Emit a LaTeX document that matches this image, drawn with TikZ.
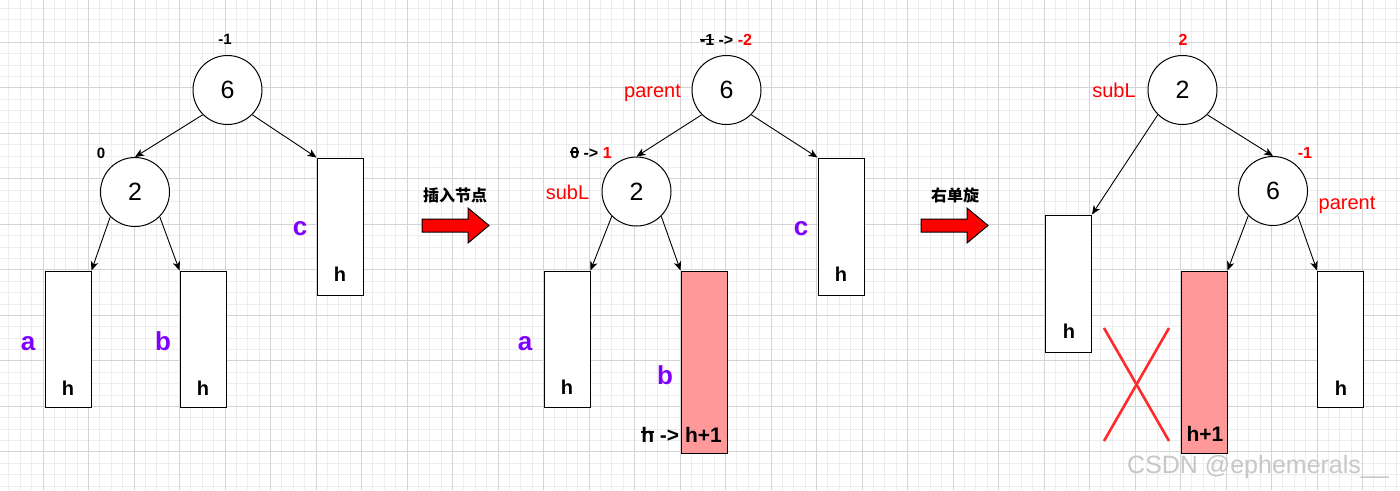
\documentclass[tikz,border=0pt]{standalone}
\usepackage{fontspec}
\setmainfont{Liberation Sans}
\newfontfamily\cjk{Noto Sans CJK SC}
\usetikzlibrary{arrows.meta}
\definecolor{purp}{HTML}{7F00FF}
\definecolor{rtxt}{HTML}{FF0000}
\definecolor{pinkf}{HTML}{FF9999}
\definecolor{gmaj}{HTML}{D4D4D4}
\definecolor{gmin}{HTML}{EDEDED}
\definecolor{xred}{HTML}{FF2A2A}
\newcommand\fsz[1]{\fontsize{#1}{#1}\selectfont}
\newcommand\strk[2]{\setbox0=\hbox{#2}\rlap{\rule[#1]{\wd0}{0.09em}}\box0\relax}
\begin{document}
\begin{tikzpicture}[x=1pt,y=-1pt,
  bnode/.style={circle,draw,line width=1pt,fill=white,minimum size=69pt,inner sep=0pt,font=\fsz{25}},
  tbox/.style={draw,line width=1pt,fill=white,minimum width=46pt,inner sep=0pt},
  pbox/.style={tbox,fill=pinkf},
  edge/.style={line width=0.9pt,-{Stealth[length=9pt,width=7.5pt,inset=2.5pt]}},
  hlab/.style={anchor=base,font=\fsz{20}\bfseries,inner sep=0pt},
  sublab/.style={anchor=base,font=\fsz{26}\bfseries,text=purp,inner sep=0pt},
  bal/.style={anchor=base,font=\fsz{15}\bfseries,inner sep=0pt},
  balb/.style={anchor=base,font=\fsz{16}\bfseries,inner sep=0pt},
  redlab/.style={anchor=base,font=\fsz{20},text=rtxt,inner sep=0pt},
  blockarrow/.style={fill=red,draw=black,line width=1pt},
  oplab/.style={anchor=base,font=\cjk\bfseries\fsz{16},inner sep=0pt},
  minorgrid/.style={gmin,line width=0.8pt},
  majorgrid/.style={gmaj,line width=0.9pt},
]
\useasboundingbox (0,0) rectangle (1400,490);
\clip (0,0) rectangle (1400,490);
\fill[white] (0,0) rectangle (1400,490);
% grid
\foreach \k in {-4,...,120} \draw[minorgrid] ({43+\k*11.375},0) -- ({43+\k*11.375},490);
\foreach \k in {-4,...,40} \draw[minorgrid] (0,{42.3+\k*11.375}) -- (1400,{42.3+\k*11.375});
\foreach \k in {-1,...,30} \draw[majorgrid] ({43+\k*45.5},0) -- ({43+\k*45.5},490);
\foreach \k in {-1,...,10} \draw[majorgrid] (0,{42.3+\k*45.5}) -- (1400,{42.3+\k*45.5});

% ---------- tree 1 ----------
\node[bnode] (p1) at (227.5,90) {6};
\node[bnode] (s1) at (135,192) {2};
\node[tbox,minimum height=136pt] (a1) at (68,339) {};
\node[tbox,minimum height=136pt] (b1) at (203,339) {};
\node[tbox,minimum height=137pt] (c1) at (340,226.5) {};
\draw[edge] (p1.225) -- (s1.north);
\draw[edge] (p1.315) -- (c1.north west);
\draw[edge] (s1.225) -- (a1.north east);
\draw[edge] (s1.315) -- (b1.north west);
\node[bal] (bp1) at (225,44) {-1};
\node[bal] (bs1) at (101,158) {0};
\node[sublab] (la1) at (28,350) {a};
\node[sublab] (lb1) at (163,350) {b};
\node[sublab] (lc1) at (300,235) {c};
\node[hlab] (ha1) at (68,395) {h};
\node[hlab] (hb1) at (203,395) {h};
\node[hlab] (hc1) at (340,281) {h};

% ---------- arrow 1 ----------
\filldraw[blockarrow] (422,219) -- (468,219) -- (468,208) -- (489,225.5) -- (468,243) -- (468,232) -- (422,232) -- cycle;
\node[oplab] (op1) at (455,201.5) {插入节点};

% ---------- tree 2 ----------
\node[bnode] (p2) at (726.5,90) {6};
\node[bnode] (s2) at (636.5,191.5) {2};
\node[tbox,minimum height=136pt] (a2) at (567,339) {};
\node[pbox,minimum height=182pt] (b2) at (704,362) {};
\node[tbox,minimum height=137pt] (c2) at (841,226.5) {};
\draw[edge] (p2.225) -- (s2.north);
\draw[edge] (p2.315) -- (c2.north west);
\draw[edge] (s2.225) -- (a2.north east);
\draw[edge] (s2.315) -- (b2.north west);
\node[balb] (bp2) at (726,45) {\strk{0.3em}{-1} -> \textcolor{rtxt}{-2}};
\node[balb] (bs2) at (591,158) {\strk{0.33em}{0} -> \textcolor{rtxt}{1}};
\node[redlab] (par2) at (652.5,97) {parent};
\node[redlab] (sub2) at (567.5,199) {subL};
\node[sublab] (la2) at (525,350) {a};
\node[sublab] (lb2) at (665,384) {b};
\node[sublab] (lc2) at (801,235) {c};
\node[hlab] (ha2) at (567,394) {h};
\node[hlab] (hc2) at (841,281) {h};
\node[hlab,anchor=base east,font=\fsz{21}\bfseries] (hb2) at (722,442) {\strk{0.42em}{h} -> h+1};

% ---------- arrow 2 ----------
\filldraw[blockarrow] (921,219) -- (967,219) -- (967,208) -- (988,225.5) -- (967,243) -- (967,232) -- (921,232) -- cycle;
\node[oplab] (op2) at (955,201.5) {右单旋};

% ---------- tree 3 ----------
\node[bnode] (s3) at (1182.5,90) {2};
\node[bnode] (p3) at (1273,191) {6};
\node[tbox,minimum height=137pt] (a3) at (1068.5,283.5) {};
\node[pbox,minimum height=182pt] (b3) at (1204,362) {};
\node[tbox,minimum height=136pt] (c3) at (1340.5,339) {};
\draw[edge] (s3.225) -- (a3.north east);
\draw[edge] (s3.315) -- (p3.north);
\draw[edge] (p3.225) -- (b3.north east);
\draw[edge] (p3.315) -- (c3.north west);
\node[balb,text=rtxt] (bs3) at (1183,45) {2};
\node[balb,text=rtxt] (bp3) at (1305,158) {-1};
\node[redlab] (sub3) at (1114,97) {subL};
\node[redlab] (par3) at (1347,209) {parent};
\node[hlab] (ha3) at (1069,338) {h};
\node[hlab,font=\fsz{21}\bfseries] (hb3) at (1205,441) {h+1};
\node[hlab] (hc3) at (1341,395) {h};
\draw[xred,line width=2.6pt] (1104,328) -- (1169,441);
\draw[xred,line width=2.6pt] (1169,328) -- (1104,441);

% watermark
\node[anchor=base west,inner sep=0pt,font=\fsz{25},text=black!22] (wm) at (1127,473) {CSDN @ephemerals\_\_};
\end{tikzpicture}
\end{document}
